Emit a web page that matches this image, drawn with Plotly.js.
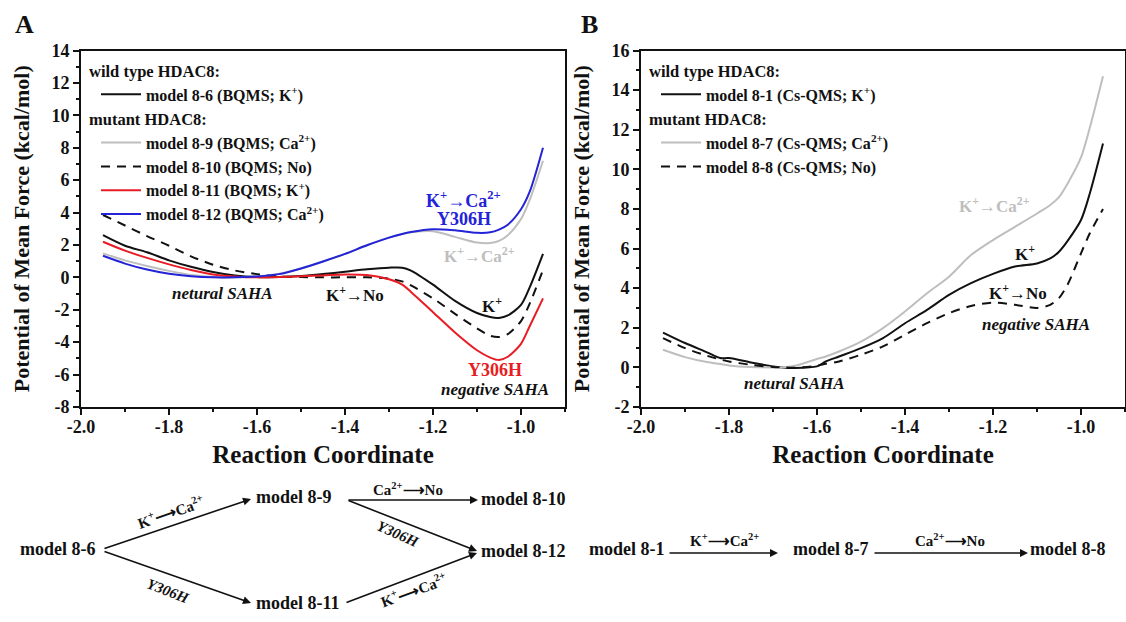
<!DOCTYPE html>
<html>
<head>
<meta charset="utf-8">
<script src="https://cdn.plot.ly/plotly-3.0.1.min.js"></script>
<style>html,body{margin:0;padding:0;background:#fff;}#chart{width:1126px;height:622px;}</style>
</head>
<body>
<div id="chart"></div>
<script>
// ---------- Panel A data (BQMS models) ----------
const xA = [-1.95,-1.9,-1.85,-1.8,-1.75,-1.7,-1.65,-1.6,-1.55,-1.5,-1.45,-1.4,-1.35,-1.3,-1.27,-1.25,-1.2,-1.15,-1.1,-1.07,-1.05,-1.03,-1.0,-0.98,-0.95];
const m86  = [2.6,1.95,1.55,1.05,0.65,0.33,0.12,0.02,0.02,0.08,0.2,0.35,0.5,0.6,0.6,0.42,-0.45,-1.45,-2.2,-2.45,-2.5,-2.35,-1.7,-0.6,1.45];
const m810 = [3.85,3.2,2.55,1.95,1.3,0.78,0.42,0.2,0.05,0.02,0.0,0.0,0.0,-0.08,-0.25,-0.5,-1.3,-2.25,-3.15,-3.6,-3.68,-3.5,-2.7,-1.6,0.45];
const m811 = [2.2,1.65,1.2,0.8,0.45,0.18,0.06,0.0,0.02,0.07,0.12,0.18,0.14,-0.12,-0.45,-0.9,-2.15,-3.4,-4.5,-4.95,-5.1,-4.9,-4.1,-3.0,-1.3];
const m89  = [1.48,1.05,0.7,0.4,0.15,0.03,0.0,0.06,0.22,0.55,0.98,1.45,1.98,2.45,2.68,2.78,2.85,2.5,2.15,2.12,2.25,2.6,3.6,4.8,7.2];
const m812 = [1.33,0.85,0.48,0.22,0.07,0.0,0.0,0.06,0.2,0.55,0.98,1.45,1.98,2.45,2.68,2.8,2.97,2.9,2.75,2.78,2.95,3.25,4.2,5.3,8.0];

// ---------- Panel B data (Cs-QMS models) ----------
const xB = [-1.95,-1.9,-1.85,-1.82,-1.8,-1.75,-1.7,-1.68,-1.65,-1.6,-1.58,-1.55,-1.5,-1.45,-1.4,-1.35,-1.3,-1.25,-1.2,-1.15,-1.1,-1.07,-1.05,-1.03,-1.0,-0.98,-0.95];
const m81 = [1.76,1.23,0.76,0.47,0.47,0.25,0.05,0.0,-0.03,0.05,0.3,0.55,0.97,1.48,2.23,2.9,3.66,4.25,4.72,5.09,5.25,5.5,5.84,6.4,7.44,8.78,11.3];
const m87 = [0.89,0.52,0.27,0.17,0.1,0.02,0.0,0.0,0.08,0.42,0.55,0.8,1.3,1.98,2.82,3.74,4.58,5.67,6.43,7.1,7.77,8.2,8.6,9.3,10.6,12.1,14.7];
const m88 = [1.48,0.97,0.59,0.4,0.3,0.13,0.02,0.0,-0.02,0.08,0.18,0.3,0.64,1.06,1.65,2.23,2.74,3.1,3.27,3.16,3.0,3.16,3.5,4.2,5.76,6.77,8.0];

// ---------- tick labels ----------
const xTickVals = [-2.0,-1.8,-1.6,-1.4,-1.2,-1.0];
const xTickText = ['-2.0','-1.8','-1.6','-1.4','-1.2','-1.0'];
const yTickValsA = [-8,-6,-4,-2,0,2,4,6,8,10,12,14];
const yTickTextA = ['-8','-6','-4','-2','0','2','4','6','8','10','12','14'];
const yTickValsB = [-2,0,2,4,6,8,10,12,14,16];
const yTickTextB = ['-2','0','2','4','6','8','10','12','14','16'];

const FONT = 'Liberation Serif, Times New Roman, serif';
const BLACK = '#111111', GRAY = 'rgb(190,190,190)', RED = 'rgb(232,28,36)', BLUE = 'rgb(35,35,215)';
const W = 1126, H = 622;
const px = x => x / W, py = y => 1 - y / H;

function tr(x, y, name, color, dash, xa, ya, legend, group, gtitle) {
  return {x: x, y: y, name: name, type: 'scatter', mode: 'lines',
    line: {color: color, width: 2, dash: dash, shape: 'spline', smoothing: 0.8},
    xaxis: xa, yaxis: ya, legend: legend, legendgroup: group,
    legendgrouptitle: {text: gtitle}, hoverinfo: 'skip'};
}

const data = [
  tr(xA, m86,  'model 8-6 (BQMS; K<sup>+</sup>)', BLACK, 'solid', 'x', 'y', 'legend', 'wtA', 'wild type HDAC8:'),
  tr(xA, m89,  'model 8-9 (BQMS; Ca<sup>2+</sup>)', GRAY, 'solid', 'x', 'y', 'legend', 'mutA', 'mutant HDAC8:'),
  tr(xA, m810, 'model 8-10 (BQMS; No)', BLACK, '9px,7px', 'x', 'y', 'legend', 'mutA', 'mutant HDAC8:'),
  tr(xA, m811, 'model 8-11 (BQMS; K<sup>+</sup>)', RED, 'solid', 'x', 'y', 'legend', 'mutA', 'mutant HDAC8:'),
  tr(xA, m812, 'model 8-12 (BQMS; Ca<sup>2+</sup>)', BLUE, 'solid', 'x', 'y', 'legend', 'mutA', 'mutant HDAC8:'),
  tr(xB, m81,  'model 8-1 (Cs-QMS; K<sup>+</sup>)', BLACK, 'solid', 'x2', 'y2', 'legend2', 'wtB', 'wild type HDAC8:'),
  tr(xB, m87,  'model 8-7 (Cs-QMS; Ca<sup>2+</sup>)', GRAY, 'solid', 'x2', 'y2', 'legend2', 'mutB', 'mutant HDAC8:'),
  tr(xB, m88,  'model 8-8 (Cs-QMS; No)', BLACK, '9px,7px', 'x2', 'y2', 'legend2', 'mutB', 'mutant HDAC8:')
];

const tickFont = {family: FONT, size: 18, color: '#111', weight: 700};
function xAxis(domain, anchor) {
  return {domain: domain, anchor: anchor, range: [-2.0, -0.9], tickvals: xTickVals, ticktext: xTickText,
    ticks: 'outside', ticklen: 6, tickwidth: 2, tickcolor: '#111', ticklabelstandoff: -4,
    minor: {dtick: 0.1, tick0: -2, ticks: 'outside', ticklen: 3, tickwidth: 2, tickcolor: '#111'},
    showline: true, linewidth: 2, linecolor: '#111', mirror: true, showgrid: false, zeroline: false,
    tickfont: tickFont,
    title: {text: 'Reaction Coordinate', font: {family: FONT, size: 25, color: '#111', weight: 700}, standoff: 10}};
}
function yAxis(domain, anchor, range, vals, text) {
  return {domain: domain, anchor: anchor, range: range, tickvals: vals, ticktext: text,
    ticks: 'outside', ticklen: 6, tickwidth: 2, tickcolor: '#111',
    minor: {dtick: 1, tick0: 0, ticks: 'outside', ticklen: 3, tickwidth: 2, tickcolor: '#111'},
    showline: true, linewidth: 2, linecolor: '#111', mirror: true, showgrid: false, zeroline: false,
    tickfont: tickFont,
    title: {text: 'Potential of Mean Force (kcal/mol)', font: {family: FONT, size: 22, color: '#111', weight: 700}, standoff: 16}};
}
function xMirror(over, anchor, domain) {
  return {overlaying: over, anchor: anchor, side: 'top', domain: domain, range: [-2.0, -0.9], tickvals: xTickVals,
    ticks: 'inside', ticklen: 6, tickwidth: 2, tickcolor: '#111', showticklabels: false,
    minor: {dtick: 0.1, tick0: -2, ticks: 'inside', ticklen: 3, tickwidth: 2, tickcolor: '#111'},
    showline: false, showgrid: false, zeroline: false};
}
function yMirror(over, anchor, domain, range, vals) {
  return {overlaying: over, anchor: anchor, side: 'right', domain: domain, range: range, tickvals: vals,
    ticks: 'inside', ticklen: 6, tickwidth: 2, tickcolor: '#111', showticklabels: false,
    minor: {dtick: 1, tick0: 0, ticks: 'inside', ticklen: 3, tickwidth: 2, tickcolor: '#111'},
    showline: false, showgrid: false, zeroline: false};
}

const domXA = [px(81), px(565)], domXB = [px(641), px(1125)];
const domY = [py(407), py(50.5)];

const ann = [];
function A(text, x, y, xref, yref, opts) {
  ann.push(Object.assign({text: text, x: x, y: y, xref: xref, yref: yref, showarrow: false,
    xanchor: 'center', yanchor: 'middle',
    font: {family: FONT, size: 17, color: '#111', weight: 700}}, opts || {}));
}
// panel letters
A('A', px(24), py(24), 'paper', 'paper', {font: {family: FONT, size: 26, color: '#111', weight: 700}});
A('B', px(589), py(24), 'paper', 'paper', {font: {family: FONT, size: 26, color: '#111', weight: 700}});
// panel A curve labels
A('K<sup>+</sup>→Ca<sup>2+</sup>', -1.13, 4.8, 'x', 'y', {font: {family: FONT, size: 18, color: BLUE, weight: 700}});
A('Y306H', -1.13, 3.6, 'x', 'y', {font: {family: FONT, size: 18, color: BLUE, weight: 700}});
A('K<sup>+</sup>→Ca<sup>2+</sup>', -1.095, 1.4, 'x', 'y', {font: {family: FONT, size: 17, color: GRAY, weight: 700}});
A('K<sup>+</sup>', -1.066, -1.7, 'x', 'y');
A('Y306H', -1.058, -5.7, 'x', 'y', {font: {family: FONT, size: 18, color: RED, weight: 700}});
A('negative SAHA', -1.06, -6.9, 'x', 'y', {font: {family: FONT, size: 17, color: '#111', weight: 700, style: 'italic'}});
A('netural SAHA', -1.678, -1.0, 'x', 'y', {font: {family: FONT, size: 17, color: '#111', weight: 700, style: 'italic'}});
A('K<sup>+</sup>→No', -1.378, -1.0, 'x', 'y');
// panel B curve labels
A('K<sup>+</sup>→Ca<sup>2+</sup>', -1.196, 8.2, 'x2', 'y2', {font: {family: FONT, size: 17, color: GRAY, weight: 700}});
A('K<sup>+</sup>', -1.127, 5.8, 'x2', 'y2');
A('K<sup>+</sup>→No', -1.143, 3.8, 'x2', 'y2');
A('negative SAHA', -1.103, 2.15, 'x2', 'y2', {font: {family: FONT, size: 17, color: '#111', weight: 700, style: 'italic'}});
A('netural SAHA', -1.652, -0.8, 'x2', 'y2', {font: {family: FONT, size: 17, color: '#111', weight: 700, style: 'italic'}});

// ---------- bottom schemes ----------
const nf = {family: FONT, size: 18, color: '#111', weight: 700};
const sf = {family: FONT, size: 15, color: '#111', weight: 700};
const sfi = {family: FONT, size: 15, color: '#111', weight: 700, style: 'italic'};
A('model 8-6', px(58), py(549), 'paper', 'paper', {font: nf});
A('model 8-9', px(294), py(497), 'paper', 'paper', {font: nf});
A('model 8-10', px(523), py(499), 'paper', 'paper', {font: nf});
A('model 8-12', px(523), py(551), 'paper', 'paper', {font: nf});
A('model 8-11', px(298), py(603), 'paper', 'paper', {font: nf});
A('model 8-1', px(627), py(549), 'paper', 'paper', {font: nf});
A('model 8-7', px(831), py(549), 'paper', 'paper', {font: nf});
A('model 8-8', px(1068), py(549), 'paper', 'paper', {font: nf});
function arrow(x0, y0, x1, y1) {
  ann.push({text: '', x: px(x1), y: py(y1), xref: 'paper', yref: 'paper', ax: x0 - x1, ay: y0 - y1,
    axref: 'pixel', ayref: 'pixel', showarrow: true, arrowhead: 2, arrowsize: 1, arrowwidth: 1.6,
    arrowcolor: '#111', standoff: 0, startstandoff: 0});
}
arrow(103, 549, 251, 499);
arrow(103, 551, 251, 603);
arrow(347, 500, 478, 500);
arrow(347, 500, 477, 551);
arrow(345, 603, 477, 553);
arrow(668, 553, 778, 553);
arrow(873, 553, 1028, 553);
A('K<sup>+</sup>⟶Ca<sup>2+</sup>', px(170), py(512), 'paper', 'paper', {font: sf, textangle: -19});
A('Y306H', px(168), py(591), 'paper', 'paper', {font: sfi, textangle: 21});
A('Ca<sup>2+</sup>⟶No', px(408), py(489), 'paper', 'paper', {font: sf});
A('Y306H', px(398), py(534), 'paper', 'paper', {font: sfi, textangle: 24});
A('K<sup>+</sup>⟶Ca<sup>2+</sup>', px(413), py(590), 'paper', 'paper', {font: sf, textangle: -20});
A('K<sup>+</sup>⟶Ca<sup>2+</sup>', px(724), py(540), 'paper', 'paper', {font: sf});
A('Ca<sup>2+</sup>⟶No', px(950), py(540), 'paper', 'paper', {font: sf});

const lf = {family: FONT, size: 16, color: '#111', weight: 700};
const legendBase = {xanchor: 'left', yanchor: 'top', bgcolor: 'rgba(0,0,0,0)', borderwidth: 0,
  font: lf, grouptitlefont: {family: FONT, size: 16.5, color: '#111', weight: 700},
  traceorder: 'grouped', tracegroupgap: 0, itemwidth: 40, indentation: 12};

const layout = {
  width: W, height: H, margin: {l: 0, r: 0, t: 0, b: 0}, paper_bgcolor: '#fff', plot_bgcolor: 'rgba(0,0,0,0)',
  font: {family: FONT, color: '#111'}, showlegend: true,
  xaxis: xAxis(domXA, 'y'), yaxis: yAxis(domY, 'x', [-8, 14], yTickValsA, yTickTextA),
  xaxis2: xAxis(domXB, 'y2'), yaxis2: yAxis(domY, 'x2', [-2, 16], yTickValsB, yTickTextB),
  xaxis3: xMirror('x', 'y', domXA), yaxis3: yMirror('y', 'x', domY, [-8, 14], yTickValsA),
  xaxis4: xMirror('x2', 'y2', domXB), yaxis4: yMirror('y2', 'x2', domY, [-2, 16], yTickValsB),
  legend: Object.assign({x: px(84), y: py(53)}, legendBase),
  legend2: Object.assign({x: px(644), y: py(53)}, legendBase),
  annotations: ann
};

Plotly.newPlot('chart', data, layout, {staticPlot: true, displayModeBar: false});
</script>
</body>
</html>
